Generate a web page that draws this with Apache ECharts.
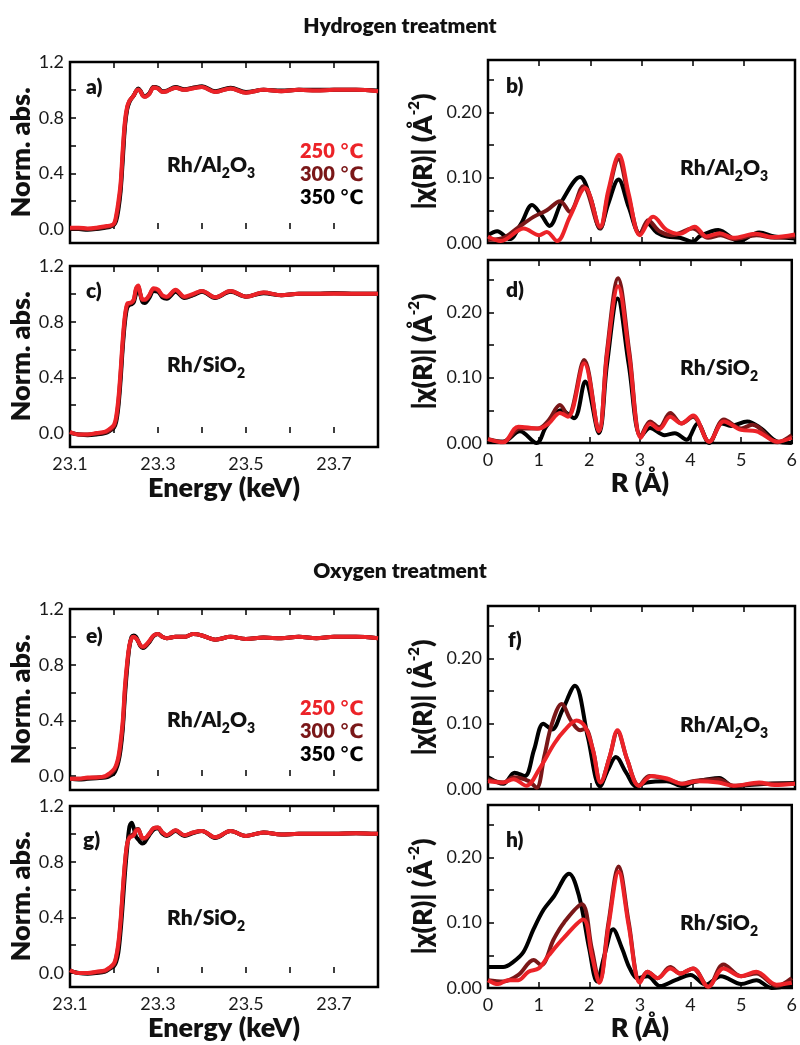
<!DOCTYPE html>
<html><head><meta charset="utf-8">
<script src="https://cdn.jsdelivr.net/npm/echarts@6/dist/echarts.min.js"></script>
<style>html,body{margin:0;padding:0;background:#fff}#c{width:800px;height:1045px}</style>
</head><body><div id="c"></div><script>
// ---------- tick labels ----------
const E_TICKS = [23.1, 23.2, 23.3, 23.4, 23.5, 23.6, 23.7, 23.8];
const E_LABELS = [23.1, 23.3, 23.5, 23.7];
const ABS_TICKS = [0, 0.2, 0.4, 0.6, 0.8, 1.0, 1.2];
const ABS_LABELS = [0, 0.4, 0.8, 1.2];
const R_TICKS = [0, 1, 2, 3, 4, 5, 6];
const CHI_TICKS = [0, 0.05, 0.10, 0.15, 0.20, 0.25];
const CHI_LABELS = [0, 0.10, 0.20];
const TEMPS = ['250 ℃', '300 ℃', '350 ℃'];

// ---------- XANES (energy, keV) ----------
const E = [23.10,23.12,23.14,23.16,23.18,23.19,23.20,23.205,23.21,23.215,23.22,23.225,23.23,23.235,23.24,23.245,23.25,23.255,23.26,23.265,23.27,23.28,23.29,23.30,23.31,23.32,23.34,23.36,23.38,23.40,23.43,23.465,23.50,23.54,23.58,23.62,23.66,23.70,23.75,23.80];
// a) H2, Rh/Al2O3
const a250 = [0.01,0.01,0.005,0.01,0.02,0.025,0.04,0.1,0.2,0.33,0.58,0.78,0.88,0.92,0.94,0.96,0.99,1.0,0.99,0.96,0.95,0.97,1.015,1.01,0.985,0.99,1.015,1.0,1.01,1.02,0.985,1.01,0.98,1.0,0.99,1.0,0.995,1.0,1.0,0.99];
const a300 = [0.005,0.005,0.0,0.005,0.015,0.02,0.035,0.08,0.17,0.3,0.54,0.76,0.87,0.92,0.94,0.96,0.99,1.005,0.99,0.96,0.95,0.97,1.02,1.01,0.985,0.99,1.015,1.0,1.015,1.02,0.985,1.01,0.98,1.0,0.99,1.0,0.995,1.0,1.0,0.99];
const a350 = [0.0,0.0,-0.005,0.0,0.01,0.015,0.03,0.06,0.14,0.27,0.5,0.74,0.86,0.91,0.94,0.96,0.99,1.01,0.995,0.965,0.955,0.975,1.02,1.015,0.99,0.995,1.02,1.005,1.015,1.025,0.99,1.015,0.985,1.0,0.995,1.0,1.0,1.0,1.0,0.995];
// c) H2, Rh/SiO2
const c250 = [0.01,-0.01,-0.01,0.0,0.01,0.03,0.06,0.12,0.25,0.45,0.68,0.85,0.93,0.935,0.94,0.96,1.04,1.06,1.0,0.96,0.96,0.99,1.04,1.03,0.99,0.98,1.03,0.98,1.0,1.02,0.975,1.02,0.98,1.01,0.99,1.0,1.0,1.0,1.0,1.0];
const c300 = [0.005,-0.01,-0.01,-0.005,0.005,0.02,0.05,0.1,0.22,0.42,0.65,0.83,0.92,0.93,0.935,0.955,1.03,1.055,1.0,0.955,0.955,0.985,1.035,1.025,0.985,0.975,1.025,0.975,0.995,1.02,0.975,1.02,0.98,1.01,0.99,1.0,1.0,1.005,1.0,1.0];
const c350 = [0.0,-0.01,-0.015,-0.01,0.0,0.015,0.04,0.08,0.19,0.38,0.62,0.8,0.9,0.92,0.925,0.94,1.0,1.04,0.99,0.94,0.935,0.97,1.02,1.015,0.975,0.965,1.015,0.97,0.99,1.015,0.97,1.015,0.98,1.005,0.99,1.0,1.0,1.005,1.0,1.0];
// e) O2, Rh/Al2O3
const e250 = [-0.02,-0.02,-0.01,-0.01,0.0,0.02,0.05,0.08,0.14,0.25,0.4,0.65,0.82,0.94,0.99,1.0,0.99,0.97,0.94,0.93,0.935,0.97,1.01,1.02,1.0,0.99,1.0,1.0,1.02,1.01,0.98,1.0,0.985,0.995,0.99,1.0,0.99,1.0,1.0,0.99];
const e300 = [-0.02,-0.02,-0.015,-0.01,-0.005,0.01,0.04,0.07,0.12,0.22,0.37,0.62,0.8,0.93,0.99,1.0,0.99,0.965,0.935,0.925,0.93,0.965,1.01,1.02,1.0,0.99,1.0,1.0,1.02,1.01,0.98,1.0,0.985,0.995,0.99,1.0,0.99,1.0,1.0,0.99];
const e350 = [-0.02,-0.025,-0.02,-0.015,-0.01,0.0,0.02,0.05,0.1,0.19,0.34,0.58,0.78,0.93,1.0,1.01,1.0,0.97,0.935,0.92,0.925,0.96,1.005,1.02,1.0,0.99,1.0,1.0,1.02,1.01,0.98,1.0,0.985,0.995,0.99,1.0,0.99,1.0,1.0,0.99];
// g) O2, Rh/SiO2
const g250 = [0.02,0.0,0.0,0.01,0.02,0.04,0.07,0.12,0.22,0.38,0.6,0.8,0.93,0.97,0.98,0.99,1.02,1.03,1.0,0.97,0.97,1.0,1.04,1.045,1.01,0.99,1.025,0.99,1.01,1.02,0.975,1.02,0.985,1.01,0.995,1.0,1.0,1.0,1.005,1.0];
const g300 = [0.02,0.0,0.0,0.005,0.015,0.035,0.06,0.11,0.2,0.36,0.58,0.79,0.93,0.98,0.99,1.0,1.03,1.035,1.0,0.965,0.965,1.0,1.04,1.045,1.01,0.99,1.025,0.99,1.01,1.02,0.975,1.02,0.985,1.01,0.995,1.0,1.0,1.0,1.005,1.0];
const g350 = [0.015,0.0,-0.005,0.0,0.01,0.03,0.05,0.08,0.15,0.3,0.5,0.72,0.9,1.05,1.08,1.04,0.98,0.96,0.94,0.93,0.94,0.99,1.03,1.04,1.0,0.985,1.02,0.985,1.005,1.02,0.97,1.02,0.985,1.01,0.995,1.0,1.0,1.0,1.005,1.0];

// ---------- EXAFS |chi(R)| ----------
// b) H2, Rh/Al2O3
const bR350 = [0,0.18,0.42,0.65,0.86,1.05,1.2,1.45,1.8,2.0,2.19,2.35,2.55,2.75,2.97,3.12,3.3,3.5,3.75,4.0,4.15,4.5,4.9,5.3,5.6,6.0];
const b350  = [0.012,0.018,0.006,0.03,0.058,0.042,0.026,0.065,0.101,0.07,0.022,0.06,0.097,0.055,0.014,0.03,0.016,0.01,0.008,0.002,0.011,0.02,0.003,0.016,0.01,0.007];
const bR300 = [0,0.3,0.56,0.89,1.15,1.41,1.6,1.86,2.19,2.35,2.55,2.75,2.97,3.13,3.35,3.6,4.0,4.3,4.55,4.8,5.25,5.6,6.0];
const b300  = [0.005,0.008,0.022,0.04,0.05,0.064,0.048,0.087,0.023,0.075,0.128,0.07,0.013,0.035,0.018,0.012,0.022,0.008,0.012,0.006,0.012,0.008,0.01];
const bR250 = [0,0.25,0.7,1.0,1.15,1.35,1.6,1.9,2.19,2.35,2.56,2.75,2.97,3.23,3.49,3.75,4.04,4.27,4.53,4.79,5.24,5.56,6.0];
const b250  = [0.01,0.003,0.022,0.012,0.017,0.003,0.04,0.084,0.025,0.08,0.135,0.075,0.012,0.04,0.02,0.014,0.025,0.01,0.015,0.008,0.014,0.009,0.013];
// d) H2, Rh/SiO2
const dR350 = [0,0.3,0.63,0.96,1.15,1.45,1.7,1.92,2.19,2.35,2.56,2.78,3.02,3.2,3.49,3.69,3.92,4.14,4.37,4.62,4.8,5.12,5.4,5.72,6.0];
const d350  = [0.003,0.002,0.018,0.0,0.025,0.05,0.038,0.094,0.015,0.12,0.221,0.12,0.01,0.023,0.012,0.015,0.005,0.03,0.0,0.03,0.026,0.033,0.022,0.002,0.0];
const dR300 = [0,0.3,0.63,0.98,1.2,1.42,1.58,1.9,2.19,2.35,2.57,2.79,3.02,3.2,3.38,3.6,3.82,4.05,4.37,4.66,5.0,5.22,5.72,6.0];
const d300  = [0.006,0.002,0.022,0.022,0.035,0.058,0.042,0.127,0.018,0.14,0.252,0.14,0.01,0.033,0.024,0.046,0.03,0.04,0.002,0.036,0.022,0.028,0.001,0.012];
const dR250 = [0,0.3,0.6,1.0,1.2,1.42,1.58,1.9,2.19,2.35,2.57,2.79,3.02,3.2,3.38,3.6,3.82,4.05,4.37,4.66,5.0,5.3,5.72,6.0];
const d250  = [0.006,0.001,0.025,0.022,0.03,0.046,0.04,0.122,0.018,0.135,0.24,0.133,0.008,0.03,0.021,0.04,0.03,0.042,0.002,0.033,0.02,0.018,0.002,0.008];
// f) O2, Rh/Al2O3
const fR350 = [0,0.3,0.52,0.72,0.9,1.08,1.25,1.45,1.7,1.95,2.19,2.35,2.5,2.7,2.9,3.1,3.49,3.81,4.0,4.52,4.79,5.24,6.0];
const f350  = [0.018,0.008,0.025,0.02,0.06,0.1,0.091,0.12,0.158,0.08,0.004,0.03,0.049,0.025,0.004,0.01,0.012,0.004,0.01,0.017,0.004,0.007,0.009];
const fR300 = [0,0.3,0.5,0.8,0.95,1.1,1.25,1.44,1.62,1.8,1.9,2.05,2.2,2.38,2.53,2.72,2.95,3.15,3.5,3.8,4.0,4.5,4.8,5.3,6.0];
const f300  = [0.015,0.01,0.018,0.012,0.002,0.05,0.1,0.13,0.105,0.09,0.092,0.06,0.01,0.05,0.088,0.045,0.005,0.02,0.015,0.008,0.012,0.015,0.005,0.008,0.008];
const fR250 = [0,0.3,0.5,0.75,1.0,1.3,1.5,1.73,1.9,2.05,2.2,2.38,2.53,2.72,2.95,3.2,3.5,3.8,4.1,4.5,4.8,5.3,5.6,6.0];
const f250  = [0.012,0.01,0.015,0.005,0.03,0.07,0.09,0.105,0.095,0.06,0.01,0.05,0.09,0.045,0.005,0.02,0.016,0.008,0.012,0.01,0.005,0.01,0.006,0.008];
// h) O2, Rh/SiO2
const hR350 = [0,0.3,0.5,0.7,0.9,1.1,1.3,1.6,1.8,2.0,2.15,2.3,2.47,2.65,2.8,2.95,3.15,3.4,3.7,4.0,4.3,4.6,5.0,5.3,5.6,6.0];
const h350  = [0.032,0.032,0.04,0.055,0.09,0.12,0.14,0.175,0.14,0.06,0.01,0.05,0.09,0.06,0.03,0.015,0.018,0.003,0.012,0.02,0.005,0.018,0.006,0.012,0.0,0.005];
const hR300 = [0,0.3,0.6,0.9,1.05,1.3,1.5,1.85,2.05,2.2,2.38,2.58,2.78,3.0,3.15,3.35,3.6,3.8,4.05,4.35,4.65,5.0,5.3,5.7,6.0];
const h300  = [0.012,0.01,0.02,0.043,0.035,0.075,0.1,0.128,0.06,0.01,0.1,0.186,0.1,0.01,0.025,0.015,0.032,0.022,0.03,0.002,0.036,0.018,0.022,0.003,0.015];
const hR250 = [0,0.2,0.4,0.6,0.8,1.0,1.2,1.5,1.88,2.05,2.2,2.38,2.58,2.78,3.0,3.15,3.35,3.6,3.8,4.05,4.35,4.65,5.0,5.3,5.7,6.0];
const h250  = [0.012,0.006,0.012,0.012,0.025,0.03,0.05,0.077,0.105,0.05,0.008,0.095,0.178,0.095,0.008,0.025,0.015,0.03,0.022,0.03,0.002,0.03,0.018,0.025,0.005,0.008];

// ---------- rendering ----------
const FONT = 'Lato, "Open Sans", "DejaVu Sans", sans-serif';
const HEAVY = 800;
const COLOR = {'250 ℃': '#ec2328', '300 ℃': '#7a1718', '350 ℃': '#000000'};
const zip = (xs, ys) => xs.map((x, i) => [x, ys[i]]);

const panels = [
  {kind:'x', grid:{left:70, top:62, width:308, height:181}, xl:false, tag:'a)', tagPos:[86,89], smp:'al', smpPos:[167,170],
   s:{'350 ℃':zip(E,a350),'300 ℃':zip(E,a300),'250 ℃':zip(E,a250)}},
  {kind:'r', grid:{left:488, top:60, width:307, height:183}, xl:false, tag:'b)', tagPos:[506,88], smp:'al', smpPos:[680,173],
   s:{'350 ℃':zip(bR350,b350),'300 ℃':zip(bR300,b300),'250 ℃':zip(bR250,b250)}},
  {kind:'x', grid:{left:70, top:266, width:308, height:181}, xl:true, tag:'c)', tagPos:[86,293], smp:'si', smpPos:[167,370],
   s:{'350 ℃':zip(E,c350),'300 ℃':zip(E,c300),'250 ℃':zip(E,c250)}},
  {kind:'r', grid:{left:488, top:260, width:307, height:183}, xl:true, tag:'d)', tagPos:[506,292], smp:'si', smpPos:[680,373],
   s:{'350 ℃':zip(dR350,d350),'300 ℃':zip(dR300,d300),'250 ℃':zip(dR250,d250)}},
  {kind:'x', grid:{left:70, top:609, width:308, height:181}, xl:false, tag:'e)', tagPos:[86,638], smp:'al', smpPos:[167,725],
   s:{'350 ℃':zip(E,e350),'300 ℃':zip(E,e300),'250 ℃':zip(E,e250)}},
  {kind:'r', grid:{left:488, top:606, width:307, height:183}, xl:false, tag:'f)', tagPos:[508,642], smp:'al', smpPos:[680,730],
   s:{'350 ℃':zip(fR350,f350),'300 ℃':zip(fR300,f300),'250 ℃':zip(fR250,f250)}},
  {kind:'x', grid:{left:70, top:806, width:308, height:181}, xl:true, tag:'g)', tagPos:[83,842], smp:'si', smpPos:[167,923],
   s:{'350 ℃':zip(E,g350),'300 ℃':zip(E,g300),'250 ℃':zip(E,g250)}},
  {kind:'r', grid:{left:488, top:805, width:307, height:183}, xl:true, tag:'h)', tagPos:[506,842], smp:'si', smpPos:[680,928],
   s:{'350 ℃':zip(hR350,h350),'300 ℃':zip(hR300,h300),'250 ℃':zip(hR250,h250)}}
];

const grids = [], xAxes = [], yAxes = [], series = [], graphics = [];
const tickStyle = {color:'#000', width:1.5};
const labelStyle = {fontFamily:FONT, fontSize:18, color:'#1a1a1a'};
const nameStyle = {fontFamily:FONT, fontSize:27, fontWeight:HEAVY, color:'#111'};

panels.forEach((p, i) => {
  grids.push(Object.assign({show:true, borderColor:'#000', borderWidth:2.5, backgroundColor:'transparent'}, p.grid));
  const isX = p.kind === 'x';
  const xMin = isX ? 23.1 : 0, xMax = isX ? 23.8 : 6;
  const xt = isX ? E_TICKS : R_TICKS, xlab = isX ? E_LABELS : R_TICKS;
  xAxes.push({
    type:'value', gridIndex:i, min:xMin, max:xMax, position:'bottom',
    axisLine:{show:false}, splitLine:{show:false},
    axisTick:{show:true, inside:true, length:6, lineStyle:tickStyle, customValues:xt},
    axisLabel:Object.assign({show:p.xl, customValues:xlab, margin:8,
      formatter: v => isX ? v.toFixed(1) : String(Math.round(v))}, labelStyle),
    name: p.xl ? (isX ? 'Energy (keV)' : 'R (Å)') : '', nameLocation:'middle',
    nameGap: isX ? 28 : 26, nameTextStyle:nameStyle
  });
  xAxes.push({
    type:'value', gridIndex:i, min:xMin, max:xMax, position:'top',
    axisLine:{show:false}, splitLine:{show:false}, axisLabel:{show:false},
    axisTick:{show:true, inside:true, length:6, lineStyle:tickStyle, customValues:xt}
  });
  yAxes.push({
    type:'value', gridIndex:i, min: isX ? -0.1 : 0, max: isX ? 1.2 : 0.28,
    axisLine:{show:false}, splitLine:{show:false},
    axisTick:{show:true, inside:true, length:6, lineStyle:tickStyle, customValues: isX ? ABS_TICKS : CHI_TICKS},
    axisLabel:Object.assign({customValues: isX ? ABS_LABELS : CHI_LABELS, margin:6,
      formatter: v => isX ? v.toFixed(1) : v.toFixed(2)}, labelStyle),
    name: isX ? 'Norm. abs.' : '{n||χ(R)| (Å}{sup|-2}{n|)}', nameLocation:'middle',
    nameGap: isX ? 34 : 49,
    nameTextStyle: isX ? nameStyle : Object.assign({}, nameStyle, {rich:{
      n:{fontFamily:FONT, fontSize:27, fontWeight:HEAVY, color:'#111', lineHeight:32},
      sup:{fontFamily:FONT, fontSize:15, fontWeight:HEAVY, color:'#111', lineHeight:15, verticalAlign:'top'}
    }})
  });
  ['350 ℃', '300 ℃', '250 ℃'].forEach(nm => {
    series.push({
      name:nm, type:'line', xAxisIndex:2*i, yAxisIndex:i, data:p.s[nm],
      showSymbol:false, smooth:0.35, clip:true, silent:true,
      lineStyle:{width:4, color:COLOR[nm]}, itemStyle:{color:COLOR[nm]}
    });
  });
  graphics.push({type:'text', left:p.tagPos[0], top:p.tagPos[1]-12,
    style:{text:p.tag, font:HEAVY + ' 21px ' + FONT, fill:'#111'}});
  const smpText = p.smp === 'al' ? '{m|Rh/Al}{s|2}{m|O}{s|3}' : '{m|Rh/SiO}{s|2}';
  graphics.push({type:'text', left:p.smpPos[0], top:p.smpPos[1]-15,
    style:{text:smpText, rich:{
      m:{fontFamily:FONT, fontSize:21, fontWeight:HEAVY, fill:'#111', lineHeight:30},
      s:{fontFamily:FONT, fontSize:14, fontWeight:HEAVY, fill:'#111', lineHeight:14, verticalAlign:'bottom'}
    }}});
});

graphics.push({type:'text', left:'center', top:16, style:{text:'Hydrogen treatment', font:HEAVY + ' 21px ' + FONT, fill:'#111'}});
graphics.push({type:'text', left:'center', top:561, style:{text:'Oxygen treatment', font:HEAVY + ' 21px ' + FONT, fill:'#111'}});

const legendCommon = {orient:'vertical', itemWidth:0, itemHeight:0, itemGap:3, selectedMode:false, icon:'rect',
  textStyle:{fontFamily:FONT, fontSize:20, fontWeight:HEAVY, padding:0},
  data: TEMPS.map(t => ({name:t, textStyle:{color:COLOR[t]}}))};

const option = {
  animation:false, backgroundColor:'#fff',
  grid:grids, xAxis:xAxes, yAxis:yAxes, series:series, graphic:graphics,
  legend:[Object.assign({left:290, top:137}, legendCommon), Object.assign({left:290, top:694}, legendCommon)]
};
const chart = echarts.init(document.getElementById('c'), null, {renderer:'canvas'});
chart.setOption(option);
</script></body></html>
